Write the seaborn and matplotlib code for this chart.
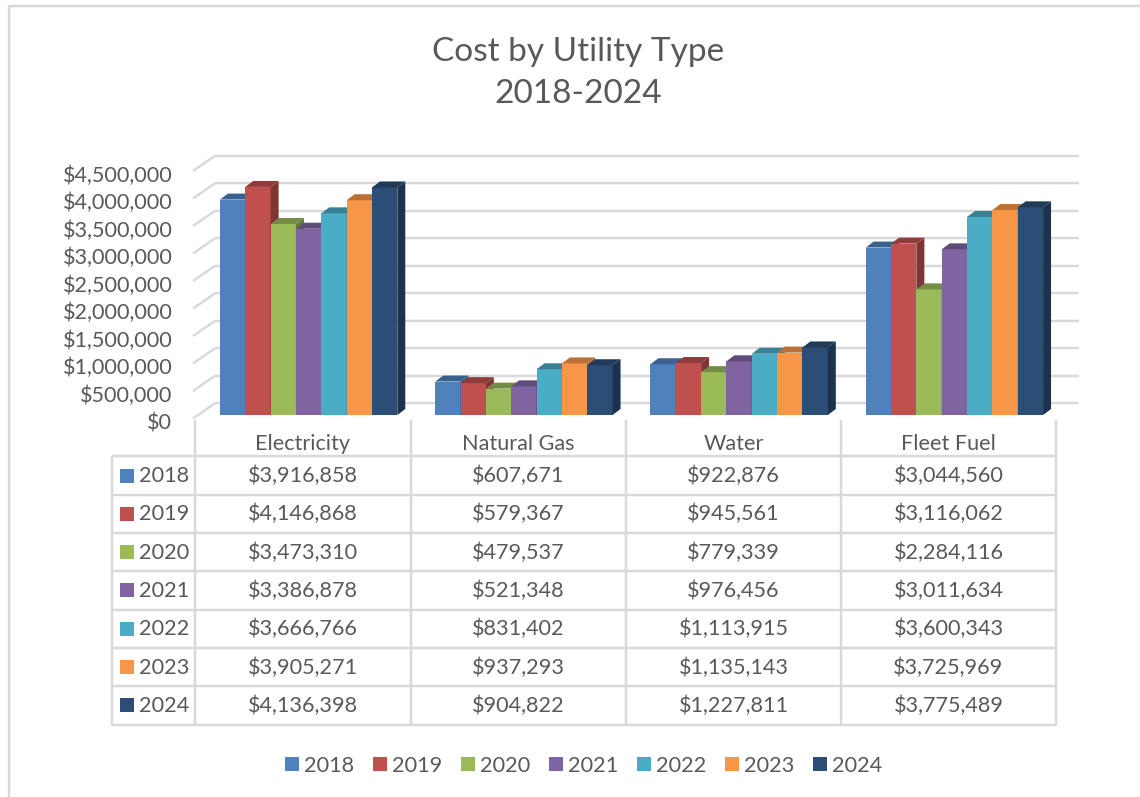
import matplotlib
matplotlib.use("Agg")
import matplotlib.pyplot as plt
import matplotlib.colors as mc
from matplotlib.patches import Polygon, Rectangle
from matplotlib.transforms import ScaledTranslation
import pandas as pd
import seaborn as sns

# ---- data ----
categories = ["Electricity", "Natural Gas", "Water", "Fleet Fuel"]
years = ["2018", "2019", "2020", "2021", "2022", "2023", "2024"]
cost_2018 = [3916858, 607671, 922876, 3044560]
cost_2019 = [4146868, 579367, 945561, 3116062]
cost_2020 = [3473310, 479537, 779339, 2284116]
cost_2021 = [3386878, 521348, 976456, 3011634]
cost_2022 = [3666766, 831402, 1113915, 3600343]
cost_2023 = [3905271, 937293, 1135143, 3725969]
cost_2024 = [4136398, 904822, 1227811, 3775489]
series = [cost_2018, cost_2019, cost_2020, cost_2021, cost_2022, cost_2023, cost_2024]
colors = ["#4F81BD", "#C0504D", "#9BBB59", "#8064A2", "#4BACC6", "#F79646", "#2C4D75"]
title_text = "Cost by Utility Type\n2018-2024"
y_ticks = list(range(0, 4500001, 500000))

sns.set_theme(style="white")
FONT = "Lato"
plt.rcParams["font.family"] = [FONT, "DejaVu Sans"]
GREY = "#595959"
LINE = "#D9D9D9"
W, H = 1140, 797
FS = 15.6

fig = plt.figure(figsize=(W / 100, H / 100), dpi=100, facecolor="white")

# overlay in pixel coordinates: frame, wall, table
ov = fig.add_axes([0, 0, 1, 1], zorder=0)
ov.set_xlim(0, W)
ov.set_ylim(H, 0)
ov.axis("off")

# main plotting axes: front plane of the 3-D box
AX_L, AX_R, AX_BASE, AX_TOP = 201.0, 1062.0, 415.0, 167.5
ax = fig.add_axes([AX_L / W, 1 - AX_BASE / H, (AX_R - AX_L) / W, (AX_BASE - AX_TOP) / H], zorder=1)
ax.patch.set_alpha(0)

df = pd.DataFrame(
    [(c, y, series[j][i]) for j, y in enumerate(years) for i, c in enumerate(categories)],
    columns=["category", "year", "cost"],
)
sns.barplot(data=df, x="category", y="cost", hue="year", hue_order=years, order=categories,
            palette=colors, width=0.824, gap=0, saturation=1, ax=ax, legend=True, linewidth=0)
ax.set_xlim(-0.5, 3.5)
ax.set_ylim(0, 4500000)
ax.set_xlabel("")
ax.set_ylabel("")
ax.set_xticks([])
ax.set_yticks(y_ticks)
ax.set_yticklabels([f"${v:,}" for v in y_ticks])
ax.tick_params(axis="y", length=0, pad=20.6, labelsize=FS, labelcolor=GREY)
for s in ax.spines.values():
    s.set_visible(False)
shift = ScaledTranslation(0, -6 / 100, fig.dpi_scale_trans)
for lab in ax.get_yticklabels():
    lab.set_transform(lab.get_transform() + shift)

# back wall and side wall gridlines, driven by the axis scale
def data_to_px(x, y):
    return ov.transData.inverted().transform(ax.transData.transform((x, y)))

lw_px = 1.75
for v in y_ticks:
    yp = data_to_px(0, v)[1]
    ov.plot([215, 1079], [yp - 11.7, yp - 11.7], color=LINE, lw=lw_px, solid_capstyle="butt")
    ov.plot([193, 215], [yp + 3.5, yp - 11.7], color=LINE, lw=lw_px, solid_capstyle="butt")

# 3-D side and top faces of the bars
DX, DY = 8.0, 6.0
for j, cont in enumerate(ax.containers):
    for bar in cont:
        bar.set_zorder(3 + j)
        bar.set_linewidth(0)
        x0, x1 = bar.get_x(), bar.get_x() + bar.get_width()
        h = bar.get_height()
        (px0, py1), (px1, py0) = data_to_px(x0, h), data_to_px(x1, 0)
        base = mc.to_rgb(colors[j])
        top_c = tuple(c * 0.75 for c in base)
        side_c = tuple(c * 0.66 for c in base)
        side = [(px1, py1), (px1 + DX, py1 - DY), (px1 + DX, py0 - DY), (px1, py0)]
        top = [(px0, py1), (px0 + DX, py1 - DY), (px1 + DX, py1 - DY), (px1, py1)]
        for pts, col in ((side, side_c), (top, top_c)):
            ax.add_patch(Polygon(pts, closed=True, facecolor=col, edgecolor="none",
                                 transform=ov.transData, clip_on=False, zorder=3 + j))

# frame of the chart
ov.plot([8.5, 8.5, W], [H, 6, 6], color=LINE, lw=lw_px, solid_capstyle="butt")

# title
ov.text(578, 73, title_text, ha="center", va="center", fontsize=24.0, color=GREY, linespacing=1.46)

# data table
col_x = [195, 410.5, 626, 841, 1056]
TBL_L, HDR_TOP, ROW0, ROW_H = 112, 420, 456.4, 38.3
TBL_B = ROW0 + ROW_H * len(years)
for x in col_x:
    ov.plot([x, x], [HDR_TOP, TBL_B], color=LINE, lw=lw_px, solid_capstyle="butt")
ov.plot([TBL_L, TBL_L], [ROW0, TBL_B], color=LINE, lw=lw_px, solid_capstyle="butt")
for r in range(len(years) + 1):
    y = ROW0 + r * ROW_H
    ov.plot([TBL_L, col_x[-1]], [y, y], color=LINE, lw=lw_px, solid_capstyle="butt")
for i, c in enumerate(categories):
    cx = (col_x[i] + col_x[i + 1]) / 2
    ov.text(cx, 444, c, ha="center", va="center", fontsize=FS, color=GREY)
    for r in range(len(years)):
        ov.text(cx, ROW0 + (r + 0.5) * ROW_H + 0.5, f"${series[r][i]:,}", ha="center", va="center",
                fontsize=FS, color=GREY)
for r, y in enumerate(years):
    yc = ROW0 + (r + 0.5) * ROW_H
    ov.add_patch(Rectangle((120, yc - 7), 14, 14, facecolor=colors[r], edgecolor="none"))
    ov.text(139.5, yc + 0.5, y, ha="left", va="center", fontsize=FS, color=GREY)

# legend
sns.move_legend(ax, "center", bbox_to_anchor=((583.5 - AX_L) / (AX_R - AX_L), (AX_BASE - 765.5) / (AX_BASE - AX_TOP)),
                ncol=7, frameon=False, title=None, fontsize=FS, labelcolor=GREY,
                handlelength=0.646, handleheight=0.646, handletextpad=0.23, columnspacing=0.87,
                borderpad=0, borderaxespad=0)

fig.savefig("out.png", dpi=100, facecolor="white")
